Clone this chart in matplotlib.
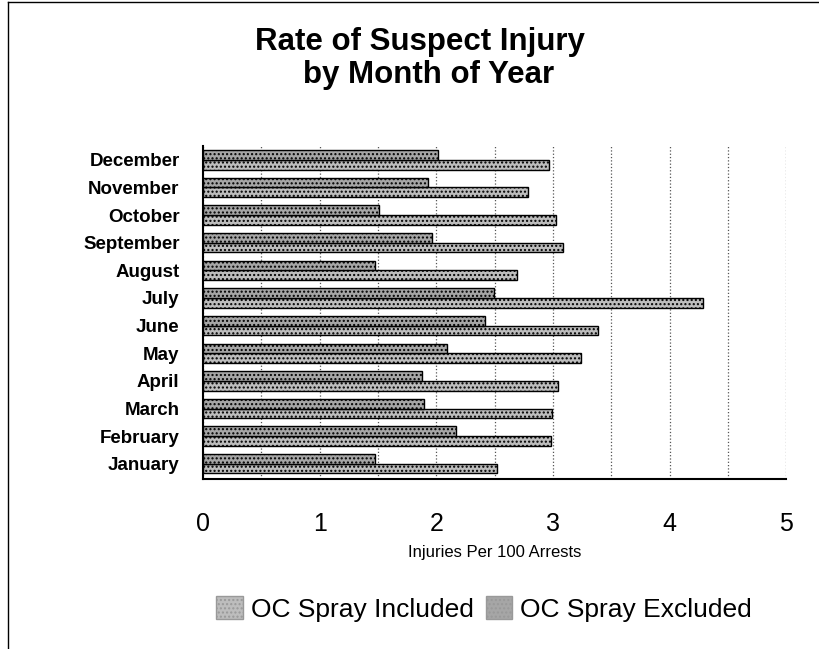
import numpy as np
import matplotlib.pyplot as plt
from matplotlib.lines import Line2D
from matplotlib.patches import Patch

plt.rcParams['font.family'] = ['Liberation Sans', 'DejaVu Sans']
plt.rcParams['hatch.color'] = '#7a7a7a'

months = ["January", "February", "March", "April", "May", "June",
          "July", "August", "September", "October", "November", "December"]
oc_included = [2.52, 2.98, 2.99, 3.04, 3.24, 3.39, 4.29, 2.69, 3.09, 3.03, 2.79, 2.97]
oc_excluded = [1.47, 2.17, 1.89, 1.88, 2.09, 2.42, 2.49, 1.47, 1.96, 1.51, 1.93, 2.01]
x_ticks = [0, 1, 2, 3, 4, 5]

fig = plt.figure(figsize=(8.19, 6.49), dpi=100)
ax = fig.add_axes([0.248, 0.262, 0.712, 0.513])

y = np.arange(len(months))
h = 0.35
ax.barh(y - h / 2, oc_included, height=h, color="#bdbdbd", edgecolor="black",
        linewidth=1, hatch="....", label="OC Spray Included")
ax.barh(y + h / 2, oc_excluded, height=h, color="#a6a6a6", edgecolor="black",
        linewidth=1, hatch="....", label="OC Spray Excluded")

ax.set_xlim(0, 5)
ax.set_ylim(-0.55, 11.5)
ax.set_xticks(x_ticks)
ax.set_xticklabels([str(t) for t in x_ticks], fontsize=18)
ax.set_yticks(y)
ax.set_yticklabels(months, fontsize=13.5, fontweight="bold")
ax.tick_params(axis="x", length=0, pad=24)
ax.tick_params(axis="y", length=0, pad=17)
ax.set_xticks(np.arange(0.5, 5.01, 0.5), minor=True)
ax.tick_params(axis="x", which="minor", length=0)
ax.grid(axis="x", which="both", linestyle=":", color="#555555", linewidth=0.9)
ax.set_axisbelow(True)
for s in ["top", "right"]:
    ax.spines[s].set_visible(False)
ax.spines["left"].set_linewidth(1.5)
ax.spines["bottom"].set_linewidth(1.5)
ax.set_xlabel("Injuries Per 100 Arrests", fontsize=12, labelpad=6)

fig.text(0.513, 0.936, "Rate of Suspect Injury", ha="center", va="center",
         fontsize=22.5, fontweight="bold")
fig.text(0.523, 0.884, "by Month of Year", ha="center", va="center",
         fontsize=22.5, fontweight="bold")

handles = [Patch(facecolor="#bdbdbd", edgecolor="#999999", hatch="...."),
           Patch(facecolor="#a6a6a6", edgecolor="#999999", hatch="....")]
fig.legend(handles, ["OC Spray Included", "OC Spray Excluded"],
           loc="center", bbox_to_anchor=(0.591, 0.062), ncol=2, frameon=False,
           fontsize=19, handlelength=1.0, handleheight=1.0, handletextpad=0.3,
           columnspacing=0.45)

# page border
fig.add_artist(Line2D([0.01, 1.0], [0.997, 0.997], color="black", linewidth=1))
fig.add_artist(Line2D([0.01, 0.01], [0.0, 0.997], color="black", linewidth=1))

plt.savefig("out.png", dpi=100)
